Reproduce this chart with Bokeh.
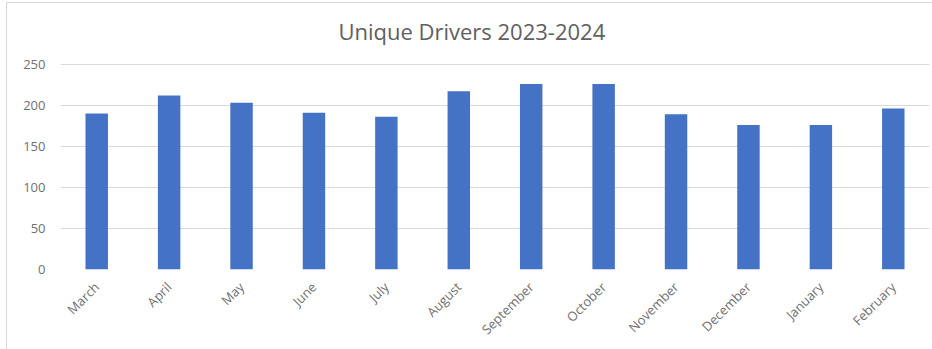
from bokeh.plotting import figure
from bokeh.models import ColumnDataSource, FixedTicker, Range1d, Label
from bokeh.embed import file_html
from bokeh.resources import INLINE
import math

months = ["March", "April", "May", "June", "July", "August", "September",
          "October", "November", "December", "January", "February"]
drivers = [190, 212, 203, 191, 186, 217, 226, 226, 189, 176, 176, 196]
y_ticks = [0, 50, 100, 150, 200, 250]
title_text = "Unique Drivers 2023-2024"

src = ColumnDataSource(data=dict(month=months, drivers=drivers))

# top of the y range leaves room inside the frame for the title line
p = figure(x_range=months, y_range=Range1d(0, 324), width=926, height=347,
           output_backend="svg", toolbar_location=None,
           min_border_left=53, min_border_right=4, min_border_top=0,
           min_border_bottom=81, margin=(2, 0, 0, 6),
           styles={"border-left": "1px solid #d9d9d9",
                   "border-top": "1px solid #d9d9d9"})

p.vbar(x="month", top="drivers", width=0.31, source=src,
       fill_color="#4472C4", line_color=None)

title = Label(x=5.68, y=290, text=title_text,
              text_align="center", text_baseline="middle",
              text_font="Open Sans", text_font_size="22px",
              text_color="#606060")
p.add_layout(title)

p.outline_line_color = None
p.background_fill_color = "white"
p.border_fill_color = "white"

p.xgrid.grid_line_color = None
p.ygrid.grid_line_color = "#d9d9d9"
p.ygrid.grid_line_width = 1

p.yaxis.ticker = FixedTicker(ticks=y_ticks)
for ax in (p.xaxis[0], p.yaxis[0]):
    ax.axis_line_color = None
    ax.major_tick_line_color = None
    ax.minor_tick_line_color = None
    ax.major_label_text_color = "#707070"
    ax.major_label_text_font = "Open Sans"
    ax.major_label_text_font_size = "13px"

p.yaxis.major_label_standoff = 9
p.xaxis.major_label_orientation = math.pi / 4
p.xaxis.major_label_standoff = 9

open("out.html", "w").write(file_html(p, INLINE))
